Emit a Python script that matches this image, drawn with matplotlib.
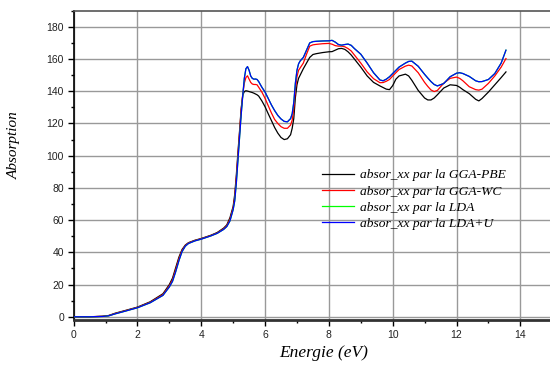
import numpy as np
import matplotlib
matplotlib.use('Agg')
import matplotlib.pyplot as plt
from matplotlib.ticker import MultipleLocator
from matplotlib.patches import Rectangle

# Energie (eV) grid
energy = np.array([
    0, 0.5, 0.9, 1.1, 1.3, 1.6, 2.0, 2.4, 2.8, 3.0, 3.1, 3.2, 3.3, 3.4, 3.5, 3.6, 3.8, 4.0, 4.3, 4.5, 4.7, 4.8, 4.9,
    5.0, 5.05, 5.1, 5.15, 5.2, 5.25, 5.3, 5.35, 5.4, 5.45, 5.5, 5.55, 5.6, 5.65, 5.7, 5.75, 5.8, 5.9,
    6.0, 6.1, 6.2, 6.3, 6.4, 6.5, 6.6, 6.7, 6.8, 6.85, 6.9, 6.95, 7.0, 7.05, 7.1, 7.2, 7.3, 7.4, 7.5, 7.6, 7.8,
    8.0, 8.1, 8.2, 8.3, 8.4, 8.5, 8.6, 8.7, 8.8, 9.0, 9.2, 9.4, 9.6, 9.7, 9.8, 9.9,
    10.0, 10.1, 10.2, 10.4, 10.5, 10.6, 10.8, 11.0, 11.1, 11.2, 11.3, 11.4, 11.6, 11.8,
    12.0, 12.1, 12.2, 12.4, 12.6, 12.7, 12.8, 13.0, 13.2, 13.4, 13.55])

gga_pbe = np.array([
    0, 0, 0.3, 0.8, 2.2, 3.8, 6.0, 9.3, 14.3, 20, 24, 30.5, 37, 41.8, 44.5, 46, 47.5, 48.6, 50.6, 52.3, 55, 57, 61.5,
    68.5, 76, 88, 102, 115, 129, 137.5, 139.8, 140.3, 140.1, 139.8, 139.5, 139.2, 138.8, 138.3, 137.8, 137, 134,
    130.4, 126, 121.8, 117.5, 114, 111.3, 110, 110.5, 113, 117, 123, 136, 144, 148, 150, 154, 157.5, 161, 162.8, 163.3, 164,
    164.5, 164.6, 165.5, 166.4, 166.6, 166, 164.5, 162.5, 160, 155, 149.5, 145.5, 143.3, 142.3, 141.3, 141,
    143.5, 147.5, 149.5, 150.6, 149.5, 146.8, 140.5, 135.8, 134.6, 134.6, 135.8, 137.8, 142, 144,
    143.6, 142.5, 141, 138.5, 135, 134, 135.5, 139.5, 144, 148.5, 152])

gga_wc = np.array([
    0, 0, 0.3, 0.7, 2.0, 3.6, 5.8, 9.0, 13.8, 19.2, 23, 29.3, 36, 41.2, 44.2, 45.8, 47.3, 48.4, 50.4, 52.0, 54.6, 56.5, 60.5,
    67.5, 74, 86, 100, 114, 128, 138, 145, 148.5, 149.6, 147.5, 145.5, 144.5, 144.2, 144.2, 144, 142.5, 139.5,
    135.6, 131, 126.5, 122.5, 120, 118, 117, 117, 119, 122, 129, 141, 149, 153, 154.5, 157.5, 163, 168, 168.8, 169.1, 169.5,
    169.7, 169.2, 168.3, 168, 168, 167.6, 166.5, 165, 162.5, 157.5, 152, 147.8, 145.3, 145.4, 146.2, 147.3,
    149.5, 151.5, 153.5, 155.6, 156.2, 155.7, 151.5, 145.5, 143, 140.8, 139.8, 140.5, 145, 148,
    148.8, 148, 146.5, 142.8, 141, 140.7, 141.3, 144.9, 149.5, 155, 160.3])

lda_u = np.array([
    0, 0, 0.2, 0.6, 1.8, 3.4, 5.6, 8.7, 13.3, 18.5, 22, 28, 34.8, 40.5, 43.8, 45.5, 47.1, 48.2, 50.2, 51.8, 54.2, 56, 59.5,
    66.5, 72, 83, 97, 111, 125, 137, 148, 154, 155.3, 153, 149.5, 148, 147.5, 147.6, 147.3, 146, 142.5,
    139.5, 135.5, 131.5, 128, 125, 122.8, 121.3, 121, 123, 126, 133, 145, 153, 157, 158.8, 161, 165.5, 170, 170.8, 171, 171.2,
    171.3, 171.6, 170.5, 169, 168.6, 169, 169.3, 168.5, 166.5, 163, 157.5, 151.5, 147, 146.5, 147.5, 149,
    151, 153, 155, 157.5, 158.5, 158.7, 155.5, 150.5, 148.2, 146, 144.2, 143.3, 144.8, 149,
    151.2, 151.5, 151, 149.2, 146.5, 145.9, 146, 147.3, 151, 157.5, 165.5])

# the LDA curve sits under the LDA+U one in the picture
lda = lda_u.copy()

labels = ['absor_xx par la GGA-PBE', 'absor_xx par la GGA-WC',
          'absor_xx par la LDA', 'absor_xx par la LDA+U']
colors = ['#000000', '#ff0000', '#00ff00', '#0000ff']

fig = plt.figure(figsize=(5.5, 3.65), dpi=100)
ax = fig.add_axes([73.6 / 550, 1 - 320 / 365, 1 - 73.6 / 550, (320 - 10.7) / 365])

for y, c, lab in zip([gga_pbe, gga_wc, lda, lda_u], colors, labels):
    ax.plot(energy, y, color=c, lw=0.9, label=lab, zorder=3)

ax.set_xlim(0, 14.93)
ax.set_ylim(-2, 190)
ax.xaxis.set_major_locator(MultipleLocator(2))
ax.xaxis.set_minor_locator(MultipleLocator(1))
ax.yaxis.set_major_locator(MultipleLocator(20))
ax.yaxis.set_minor_locator(MultipleLocator(10))
ax.grid(True, which='major', color='#999999', lw=1.0, zorder=0)

ax.spines['right'].set_visible(False)
ax.spines['top'].set_color('#555555')
ax.spines['top'].set_linewidth(1.2)
ax.spines['left'].set_linewidth(1.2)
ax.spines['bottom'].set_color('#333333')
ax.spines['bottom'].set_linewidth(2.0)

ax.tick_params(which='major', direction='out', length=4, width=1, labelsize=7.5,
               labelcolor='#222222', pad=3)
ax.tick_params(which='minor', direction='out', length=2.5, width=1)
for t in ax.get_xticklabels() + ax.get_yticklabels():
    t.set_fontfamily('Liberation Sans')

fig.text(324 / 550, 1 - 353 / 365, 'Energie (eV)', fontfamily='Liberation Serif', fontstyle='italic',
         fontsize=12.5, ha='center', va='center')
fig.text(14 / 550, 1 - 145 / 365, 'Absorption', fontfamily='Liberation Serif', fontstyle='italic',
         fontsize=11, rotation=90, ha='center', va='center')

# white block behind the legend, as in the original
ax.add_patch(Rectangle((300 / 550, 1 - 240 / 365), 228 / 550, 80 / 365, transform=fig.transFigure,
                       facecolor='white', edgecolor='none', zorder=1))

leg = ax.legend(loc='upper left', bbox_to_anchor=(318 / 550, 1 - 165 / 365), bbox_transform=fig.transFigure,
                prop={'family': 'Liberation Serif', 'style': 'italic', 'size': 9.7},
                frameon=False, handlelength=2.4, handletextpad=0.4, labelspacing=0.27,
                borderpad=0.3, borderaxespad=0)
leg.set_zorder(4)

fig.savefig('out.png', dpi=100)
